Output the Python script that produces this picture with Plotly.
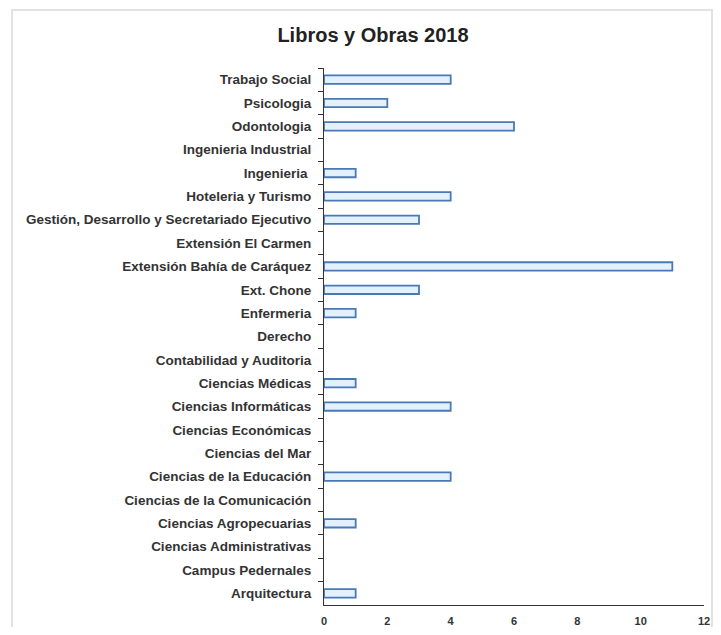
import plotly.graph_objects as go

categories = [
    "Trabajo Social", "Psicologia", "Odontologia", "Ingenieria Industrial",
    "Ingenieria ", "Hoteleria y Turismo",
    "Gestión, Desarrollo y Secretariado Ejecutivo", "Extensión El Carmen",
    "Extensión Bahía de Caráquez", "Ext. Chone", "Enfermeria", "Derecho",
    "Contabilidad y Auditoria", "Ciencias Médicas", "Ciencias Informáticas",
    "Ciencias Económicas", "Ciencias del Mar", "Ciencias de la Educación",
    "Ciencias de la Comunicación", "Ciencias Agropecuarias",
    "Ciencias Administrativas", "Campus Pedernales", "Arquitectura",
]
values = [4, 2, 6, 0, 1, 4, 3, 0, 11, 3, 1, 0, 0, 1, 4, 0, 0, 4, 0, 1, 0, 0, 1]
x_ticks = [0, 2, 4, 6, 8, 10, 12]

FONT = "Liberation Sans, Arial, sans-serif"

# page body adds an 8px margin; figure sized to fit inside the visible window
W, H = 705, 619
L, R, T, B = 316, 9, 60, 22
PW = W - L - R
PH = H - T - B

fig = go.Figure(go.Bar(
    y=categories, x=values, orientation="h",
    marker=dict(color="#e3f1ff",
                line=dict(color="#4a78b4",
                          width=[1.8 if v > 0 else 0 for v in values])),
    width=0.36,
    hoverinfo="x+y",
))

fig.update_layout(
    width=W, height=H,
    margin=dict(l=L, r=R, t=T, b=B),
    paper_bgcolor="white", plot_bgcolor="white",
    showlegend=False,
    title=dict(text="Libros y Obras 2018", x=(373 - 8) / W, xref="container",
               xanchor="center", y=1 - (35 - 8) / H, yref="container",
               yanchor="middle",
               font=dict(family=FONT, size=20, color="#222", weight="bold")),
    font=dict(family=FONT),
    shapes=[dict(type="rect", xref="paper", yref="paper",
                 x0=(4 - L) / PW, x1=(W - 1 - L) / PW,
                 y0=-0.1, y1=(T + PH - 2) / PH,
                 line=dict(color="#e2e2e2", width=2), fillcolor="rgba(0,0,0,0)",
                 layer="below")],
)

fig.update_yaxes(
    type="category", autorange="reversed", automargin=False,
    showline=True, linecolor="#333", linewidth=1.2,
    ticks="outside", ticklen=5, tickcolor="#333", tickson="boundaries",
    showgrid=False, ticklabelstandoff=9,
    tickfont=dict(family=FONT, size=13.5, color="#333", weight="bold"),
)
fig.update_xaxes(
    range=[0, 12], tickvals=x_ticks, ticktext=[str(v) for v in x_ticks],
    automargin=False,
    showline=True, linecolor="#333", linewidth=1.2,
    ticks="", showgrid=False, zeroline=False, ticklabelstandoff=6,
    tickfont=dict(family=FONT, size=11, color="#333", weight="bold"),
)

fig.write_html("out.html")
